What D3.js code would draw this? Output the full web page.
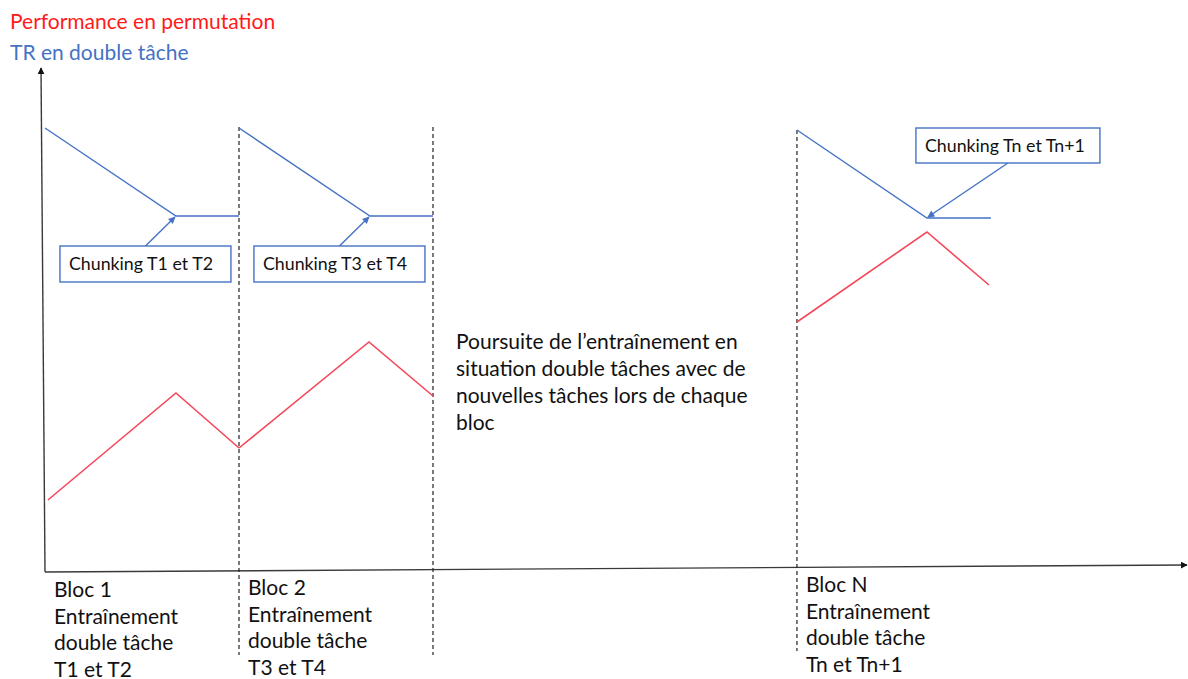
<!DOCTYPE html>
<html>
<head>
<meta charset="utf-8">
<script src="https://cdn.jsdelivr.net/npm/d3@7"></script>
<style>
  html, body { margin: 0; padding: 0; background: #fff; }
  svg { display: block; font-family: Lato, "Open Sans", sans-serif; }
</style>
</head>
<body>
<svg id="chart" width="1188" height="679"></svg>
<script>
// ---------- data ----------
const titles = ["Performance en permutation", "TR en double tâche"];
const blocks = ["Bloc 1", "Bloc 2", "Bloc N"];
const blockStart = [0, 1, 3.876];           // block index units along time axis
const blockLabels = [
  ["Bloc 1", "Entraînement", "double tâche", "T1 et T2"],
  ["Bloc 2", "Entraînement", "double tâche", "T3 et T4"],
  ["Bloc N", "Entraînement", "double tâche", "Tn et Tn+1"]
];
// position inside each block (0 = start, 1 = end)
const rtX   = [[0, 0.675, 1], [0, 0.675, 1], [0, 0.67, 1]];
const rtY   = [[88.8, 71.2, 71.2], [88.8, 71.2, 71.2], [88.4, 70.8, 70.8]];
const perfX = [[0.015, 0.675, 1], [0, 0.67, 1], [0, 0.67, 0.99]];
const perfY = [[14.4, 35.8, 24.8], [24.8, 46, 35.2], [50, 68, 57.4]];
const chunkLabels = ["Chunking T1 et T2", "Chunking T3 et T4", "Chunking Tn et Tn+1"];
const middleText = [
  "Poursuite de l’entraînement en",
  "situation double  tâches avec de",
  "nouvelles tâches lors de chaque",
  "bloc"
];

// ---------- layout ----------
const svg = d3.select("#chart");
const x = d3.scaleLinear().domain([0, 1]).range([45, 239]);
const y = d3.scaleLinear().domain([0, 100]).range([572, 72]);
const BLUE = "#4472c4", RED = "#f5475a", AXIS = "#3a3a3a";

const defs = svg.append("defs");
defs.append("marker").attr("id", "axisHead").attr("viewBox", "0 0 10 10")
  .attr("refX", 9).attr("refY", 5).attr("markerWidth", 7).attr("markerHeight", 7)
  .attr("markerUnits", "userSpaceOnUse").attr("orient", "auto")
  .append("path").attr("d", "M0,0 L10,5 L0,10 z").attr("fill", "#111");
defs.append("marker").attr("id", "blueHead").attr("viewBox", "0 0 10 10")
  .attr("refX", 9).attr("refY", 5).attr("markerWidth", 9).attr("markerHeight", 7)
  .attr("markerUnits", "userSpaceOnUse").attr("orient", "auto")
  .append("path").attr("d", "M0,0 L10,5 L0,10 z").attr("fill", BLUE);

// titles
svg.append("text").attr("x", 10).attr("y", 29).attr("fill", "#ff1a1a")
  .attr("font-size", 21).text(titles[0]);
svg.append("text").attr("x", 10).attr("y", 60).attr("fill", BLUE)
  .attr("font-size", 21).text(titles[1]);

// axes
svg.append("line").attr("x1", 45).attr("y1", y(0)).attr("x2", 41).attr("y2", 68)
  .attr("stroke", AXIS).attr("stroke-width", 1.4).attr("marker-end", "url(#axisHead)");
svg.append("line").attr("x1", 45).attr("y1", y(0)).attr("x2", 1187).attr("y2", y(1.4))
  .attr("stroke", AXIS).attr("stroke-width", 1.4).attr("marker-end", "url(#axisHead)");

// dashed block separators
const seps = [
  {v: 1, y1: 127, y2: 655},
  {v: 2, y1: 127, y2: 655},
  {v: blockStart[2], y1: 130, y2: 651}
];
svg.selectAll("line.sep").data(seps).join("line").attr("class", "sep")
  .attr("x1", d => x(d.v)).attr("x2", d => x(d.v))
  .attr("y1", d => d.y1).attr("y2", d => d.y2)
  .attr("stroke", "#222").attr("stroke-width", 1.2).attr("stroke-dasharray", "4,3");

// series lines
const line = d3.line().x(d => x(d[0])).y(d => y(d[1]));
blocks.forEach((b, i) => {
  const rt = rtX[i].map((v, j) => [blockStart[i] + v, rtY[i][j]]);
  const pf = perfX[i].map((v, j) => [blockStart[i] + v, perfY[i][j]]);
  svg.append("path").datum(rt).attr("d", line).attr("fill", "none")
    .attr("stroke", BLUE).attr("stroke-width", 1.4);
  svg.append("path").datum(pf).attr("d", line).attr("fill", "none")
    .attr("stroke", RED).attr("stroke-width", 1.6);
});

// chunking callouts
const boxLayout = [
  {dx: -116, dy: 30, w: 171, h: 36, below: true},
  {dx: -116, dy: 30, w: 171, h: 36, below: true},
  {dx: -11, dy: -90, w: 184, h: 35, below: false}
];
blocks.forEach((b, i) => {
  const ax = x(blockStart[i] + rtX[i][1]), ay = y(rtY[i][1]);
  const L = boxLayout[i];
  const bx = ax + L.dx, by = ay + L.dy;
  const sx = bx + L.w / 2;
  const sy = L.below ? by : by + L.h;
  svg.append("line").attr("x1", sx).attr("y1", sy).attr("x2", ax + (L.below ? -1 : 1)).attr("y2", ay + (L.below ? 1 : -1))
    .attr("stroke", BLUE).attr("stroke-width", 1.4).attr("marker-end", "url(#blueHead)");
  svg.append("rect").attr("x", bx).attr("y", by).attr("width", L.w).attr("height", L.h)
    .attr("fill", "#fff").attr("stroke", BLUE).attr("stroke-width", 1.4);
  svg.append("text").attr("x", bx + 9).attr("y", by + L.h / 2 + 6)
    .attr("font-size", 17.8).attr("fill", "#111").text(chunkLabels[i]);
});

// block labels under axis
const labelTop = [597, 595, 592];
blockLabels.forEach((lines, i) => {
  const t = svg.append("text").attr("font-size", 21).attr("fill", "#111");
  lines.forEach((s, j) => {
    t.append("tspan").attr("x", x(blockStart[i]) + 9)
      .attr("y", labelTop[i] + j * 26.5).text(s);
  });
});

// middle annotation
const mt = svg.append("text").attr("font-size", 21).attr("fill", "#111");
middleText.forEach((s, j) => {
  mt.append("tspan").attr("x", 456).attr("y", 349 + j * 27).text(s);
});
</script>
</body>
</html>
